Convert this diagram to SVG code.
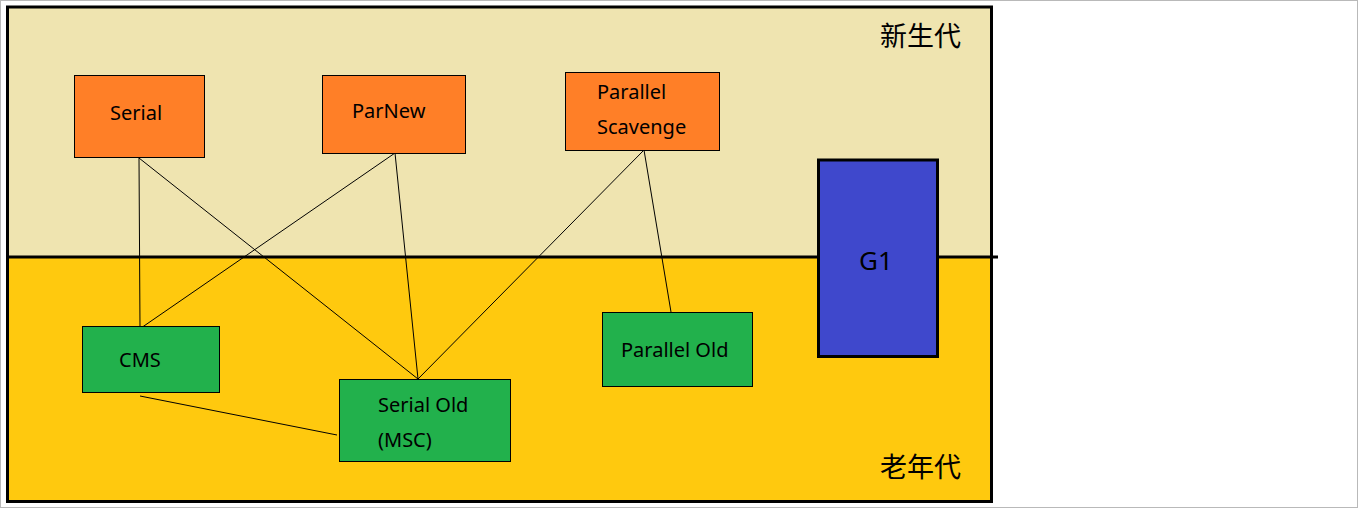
<svg xmlns="http://www.w3.org/2000/svg" width="1358" height="508" viewBox="0 0 1358 508">
<style>
.lbl{font-family:"Noto Sans","Open Sans","Liberation Sans",sans-serif;font-size:20px;fill:#000}
.cjk{font-family:"Noto Sans CJK SC","Noto Sans",sans-serif;font-size:27px;fill:#000}
.young{fill:#FF7F27;stroke:#000;stroke-width:1}
.old{fill:#22B14C;stroke:#000;stroke-width:1}
.conn line{stroke:#000;stroke-width:1;fill:none}
</style>
<rect x="0.5" y="0.5" width="1357" height="507" fill="#fff" stroke="#b9b9b9" stroke-width="1"/>
<g id="regions">
<rect x="7.5" y="7" width="984" height="250" fill="#EFE4B0"/>
<rect x="7.5" y="257" width="984" height="244.5" fill="#FFC90E"/>
<rect x="7.5" y="7" width="984" height="494.5" fill="none" stroke="#000" stroke-width="3"/>
<line x1="7" y1="257" x2="998" y2="257" stroke="#000" stroke-width="3"/>
<text class="cjk" x="880" y="46">新生代</text>
<text class="cjk" x="880" y="477">老年代</text>
</g>
<g class="conn" id="connectors">
<line x1="139" y1="158" x2="140" y2="328"/>
<line x1="139" y1="158" x2="418" y2="379"/>
<line x1="395" y1="153" x2="141" y2="328"/>
<line x1="395" y1="153" x2="418" y2="379"/>
<line x1="644" y1="150" x2="418" y2="379"/>
<line x1="644" y1="150" x2="672" y2="318"/>
<line x1="140" y1="396" x2="337" y2="435"/>
</g>
<g id="serial">
<rect class="young" x="74.5" y="75.5" width="130" height="82"/>
<text class="lbl" x="110" y="120">Serial</text>
</g>
<g id="parnew">
<rect class="young" x="322.5" y="75.5" width="143" height="78"/>
<text class="lbl" x="352" y="118">ParNew</text>
</g>
<g id="parallel-scavenge">
<rect class="young" x="565.5" y="72.5" width="154" height="78"/>
<text class="lbl" x="597" y="99">Parallel</text>
<text class="lbl" x="597" y="134">Scavenge</text>
</g>
<g id="g1">
<rect x="818.5" y="160" width="119" height="196.5" fill="#3F48CC" stroke="#000" stroke-width="3"/>
<text x="876" y="270" text-anchor="middle" font-family="Noto Sans, Open Sans, sans-serif" font-size="26" fill="#000">G1</text>
</g>
<g id="cms">
<rect class="old" x="82.5" y="326.5" width="137" height="66"/>
<text class="lbl" x="119" y="367">CMS</text>
</g>
<g id="serial-old">
<rect class="old" x="339.5" y="379.5" width="171" height="82"/>
<text class="lbl" x="378" y="412">Serial Old</text>
<text class="lbl" x="378" y="447">(MSC)</text>
</g>
<g id="parallel-old">
<rect class="old" x="602.5" y="312.5" width="150" height="74"/>
<text class="lbl" x="621" y="357">Parallel Old</text>
</g>
</svg>
